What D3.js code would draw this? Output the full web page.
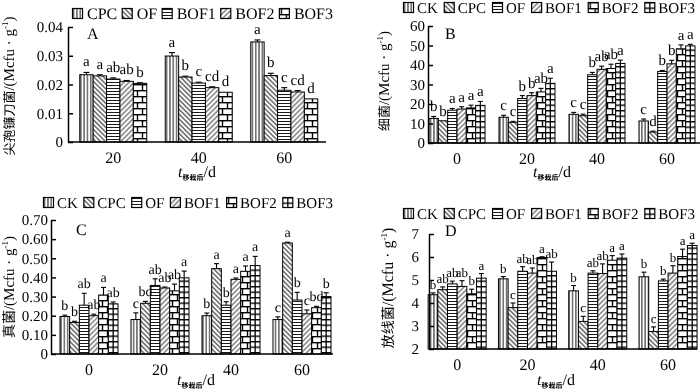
<!DOCTYPE html>
<html><head><meta charset="utf-8">
<script src="https://cdn.jsdelivr.net/npm/d3@7"></script>
<style>
body{margin:0;background:#fff;}
svg{filter:grayscale(100%);}
svg text{font-family:"Liberation Serif","Times New Roman","Noto Sans CJK SC",serif;fill:#000;text-rendering:geometricPrecision;}
</style></head><body>
<svg id="c" width="700" height="391"></svg>
<script>
// ---------- data ----------
const daysA = ["20","40","60"];
const daysBCD = ["0","20","40","60"];
const seriesA = ["CPC","OF","BOF1","BOF2","BOF3"];
const seriesBCD = ["CK","CPC","OF","BOF1","BOF2","BOF3"];

const ticksA = [0,0.01,0.02,0.03,0.04];
const ticksB = [0,10,20,30,40,50,60];
const ticksC = [0,0.1,0.2,0.3,0.4,0.5,0.6,0.7];
const ticksD = [2,3,4,5,6,7];

// A: Fusarium oxysporum (rows = days, cols = series)
const fusarium = [
  [0.0234,0.0230,0.0219,0.0211,0.0204],
  [0.0299,0.0226,0.0205,0.0189,0.0173],
  [0.0348,0.0231,0.0180,0.0174,0.0150]
];
const fusariumErr = [
  [0.0008,0.0004,0.0004,0.0003,0.0002],
  [0.0012,0.0003,0.0003,0.0003,0],
  [0.0007,0.0008,0.0009,0.0005,0]
];
const fusariumSig = [
  ["a","a","ab","ab","b"],
  ["a","b","c","cd","d"],
  ["a","b","c","cd","d"]
];
// B: bacteria
const bacteria = [
  [12.6,11.4,16.8,17.4,18.0,19.3],
  [13.2,10.6,22.8,24.3,26.2,30.6],
  [14.7,14.0,35.0,37.8,38.2,40.8],
  [11.3,5.6,36.7,40.6,48.3,49.8]
];
const bacteriaErr = [
  [1.0,0,0.9,1.2,1.4,2.0],
  [1.0,0.5,1.5,1.5,1.8,2.6],
  [1.0,0.8,1.2,1.6,2.2,1.7],
  [1.0,0.5,0.5,1.8,2.0,0.8]
];
const bacteriaSig = [
  ["b","b","a","a","a","a"],
  ["c","c","b","b","ab","a"],
  ["c","c","b","ab","ab","a"],
  ["c","d","b","b","a","a"]
];
// C: fungi
const fungi = [
  [0.196,0.165,0.255,0.200,0.308,0.262],
  [0.180,0.265,0.358,0.345,0.330,0.398],
  [0.200,0.446,0.255,0.390,0.432,0.462],
  [0.180,0.580,0.282,0.210,0.242,0.300]
];
const fungiErr = [
  [0.007,0.006,0.062,0.008,0.040,0.010],
  [0.035,0.010,0.035,0.005,0.035,0.035],
  [0.014,0.026,0.018,0.007,0.028,0.048],
  [0.014,0.004,0.040,0.020,0.007,0.020]
];
const fungiSig = [
  ["b","b","ab","ab","a","ab"],
  ["c","bd","ab","ab","ab","a"],
  ["b","a","b","a","a","a"],
  ["c","a","b","c","bd","b"]
];
// D: actinomycetes
const actino = [
  [4.36,4.58,4.83,4.72,4.40,5.08],
  [5.05,3.80,5.38,5.30,5.98,5.38],
  [4.53,3.20,5.30,5.28,5.86,5.95],
  [5.14,2.76,4.96,5.30,6.02,6.50]
];
const actinoErr = [
  [0.08,0.12,0.12,0.25,0.20,0.20],
  [0.10,0.20,0.20,0.22,0.03,0.40],
  [0.23,0.22,0.10,0.42,0.20,0.18],
  [0.20,0.20,0.08,0.32,0.32,0.10]
];
const actinoSig = [
  ["b","ab","ab","ab","b","a"],
  ["b","c","ab","ab","a","ab"],
  ["b","c","ab","ab","a","a"],
  ["b","c","b","b","a","a"]
];

// ---------- patterns ----------
const svg = d3.select("#c");
const defs = svg.append("defs");
function pat(id, w, h, draw, transform){
  const p = defs.append("pattern").attr("id",id).attr("patternUnits","userSpaceOnUse")
    .attr("width",w).attr("height",h);
  if (transform) p.attr("patternTransform",transform);
  p.append("rect").attr("width",w).attr("height",h).attr("fill","#fff");
  draw(p);
}
pat("vert",3.3,10,p=>p.append("line").attr("x1",1.65).attr("x2",1.65).attr("y1",0).attr("y2",10).attr("stroke","#000").attr("stroke-width",0.9));
pat("back",3.4,10,p=>p.append("line").attr("x1",1.7).attr("x2",1.7).attr("y1",0).attr("y2",10).attr("stroke","#000").attr("stroke-width",0.9),"rotate(-45)");
pat("horiz",10,3,p=>p.append("line").attr("x1",0).attr("x2",10).attr("y1",1.5).attr("y2",1.5).attr("stroke","#000").attr("stroke-width",0.9));
pat("slash",3.6,10,p=>p.append("line").attr("x1",1.8).attr("x2",1.8).attr("y1",0).attr("y2",10).attr("stroke","#000").attr("stroke-width",0.8),"rotate(45)");
pat("brick",10,12,p=>{
  p.append("line").attr("x1",0).attr("x2",10).attr("y1",0.7).attr("y2",0.7).attr("stroke","#000").attr("stroke-width",1.4);
  p.append("line").attr("x1",0).attr("x2",10).attr("y1",6.7).attr("y2",6.7).attr("stroke","#000").attr("stroke-width",1.4);
  p.append("line").attr("x1",2.5).attr("x2",2.5).attr("y1",0).attr("y2",6.7).attr("stroke","#000").attr("stroke-width",1.4);
  p.append("line").attr("x1",7.5).attr("x2",7.5).attr("y1",6.7).attr("y2",12).attr("stroke","#000").attr("stroke-width",1.4);
});
pat("ladder",10,5.5,p=>{
  p.append("line").attr("x1",0).attr("x2",10).attr("y1",0.7).attr("y2",0.7).attr("stroke","#000").attr("stroke-width",1.4);
});
const patA = ["vert","back","horiz","slash","brick"];
const patBCD = ["vert","back","horiz","slash","brick","ladder"];

// ---------- panel drawing ----------
function drawPanel(cfg){
  const g = svg.append("g");
  const y = d3.scaleLinear().domain(cfg.domain).range([cfg.yBot, cfg.yTop]);
  const x = d3.scaleBand().domain(cfg.days).range([cfg.x0, cfg.x0 + cfg.step*cfg.days.length]);
  const xs = d3.scaleBand().domain(cfg.series).range([0, cfg.groupW]);
  const off = (x.bandwidth()-cfg.groupW)/2;

  const rows = [];
  cfg.days.forEach((d,i)=>cfg.series.forEach((s,j)=>rows.push({d,s,j,v:cfg.values[i][j],e:cfg.errs[i][j],l:cfg.sig[i][j]})));

  const bx = r => x(r.d)+off+xs(r.s);
  const bw = xs.bandwidth();

  // error bars
  const eb = g.append("g").attr("stroke","#000").attr("stroke-width",1.1);
  rows.forEach(r=>{
    if (r.e<=0) return;
    const cx = bx(r)+bw/2;
    eb.append("line").attr("x1",cx).attr("x2",cx).attr("y1",y(r.v)).attr("y2",y(r.v+r.e));
    eb.append("line").attr("x1",cx-cfg.cap).attr("x2",cx+cfg.cap).attr("y1",y(r.v+r.e)).attr("y2",y(r.v+r.e));
  });
  // bars
  g.append("g").selectAll("rect").data(rows).join("rect")
    .attr("x",bx).attr("width",bw)
    .attr("y",r=>y(r.v)).attr("height",r=>y(cfg.domain[0])-y(r.v))
    .attr("fill",r=>`url(#${cfg.pats[r.j]})`).attr("stroke","#000").attr("stroke-width",1);
  // ladder centre line
  g.append("g").selectAll("line").data(rows.filter(r=>cfg.pats[r.j]==="ladder")).join("line")
    .attr("x1",r=>bx(r)+bw/2).attr("x2",r=>bx(r)+bw/2)
    .attr("y1",r=>y(r.v)).attr("y2",y(cfg.domain[0]))
    .attr("stroke","#000").attr("stroke-width",1.3);
  // letters
  g.append("g").selectAll("text").data(rows).join("text")
    .attr("x",r=>bx(r)+bw/2).attr("y",r=>y(r.v+r.e)-cfg.letGap)
    .attr("text-anchor","middle").attr("font-size",cfg.letSize).text(r=>r.l);

  // y axis
  const ya = g.append("g").attr("transform",`translate(${cfg.axisX},0)`)
    .call(d3.axisLeft(y).tickValues(cfg.ticks).tickSize(-5).tickSizeOuter(0).tickPadding(cfg.tickPad).tickFormat(cfg.fmt));
  ya.selectAll("path,line").attr("stroke","#000").attr("stroke-width",1.5);
  ya.selectAll("text").attr("font-size",cfg.tickSize).attr("font-family",null).attr("fill","#000");
  // x axis
  g.append("line").attr("x1",cfg.axisX).attr("x2",cfg.axisEnd).attr("y1",cfg.yBot).attr("y2",cfg.yBot)
    .attr("stroke","#000").attr("stroke-width",1.5);
  g.append("g").selectAll("text").data(cfg.days).join("text")
    .attr("x",d=>x(d)+x.bandwidth()/2).attr("y",cfg.yBot+21).attr("text-anchor","middle")
    .attr("font-size",16).text(d=>d);

  // panel letter
  g.append("text").attr("x",cfg.lab[0]).attr("y",cfg.lab[1]).attr("font-size",16).text(cfg.label);

  // y title
  const yt = g.append("text").attr("transform",`translate(${cfg.yt[0]},${cfg.yt[1]}) rotate(-90)`)
    .attr("text-anchor","middle");
  yt.append("tspan").attr("font-family","Noto Sans CJK SC").attr("font-size",cfg.cjkSize).text(cfg.ytitle);
  yt.append("tspan").attr("font-size",cfg.latSize).text("/(Mcfu · g");
  yt.append("tspan").attr("font-size",9).attr("dy",-6).text("-1");
  yt.append("tspan").attr("font-size",cfg.latSize).attr("dy",6).text(")");

  // x title
  const xt = g.append("text").attr("x",cfg.xt[0]).attr("y",cfg.xt[1]).attr("text-anchor","middle");
  xt.append("tspan").attr("font-style","italic").attr("font-size",16).text("t");
  xt.append("tspan").attr("font-family","Noto Sans CJK SC").attr("font-size",7).attr("font-weight","bold").attr("dy",3).text("移栽后");
  xt.append("tspan").attr("font-size",16).attr("dy",-3).text("/d");

  // legend
  const lg = g.append("g");
  const items = cfg.series.map((s,j)=>{
    const it = lg.append("g");
    it.append("rect").attr("x",0.5).attr("y",0.5).attr("width",10).attr("height",10)
      .attr("fill",`url(#${cfg.pats[j]})`).attr("stroke","#000").attr("stroke-width",1.2);
    if (cfg.pats[j]==="ladder") it.append("line").attr("x1",5.5).attr("x2",5.5).attr("y1",0.5).attr("y2",10.5).attr("stroke","#000").attr("stroke-width",1.3);
    const t = it.append("text").attr("x",11+cfg.legTextGap).attr("y",10.5).attr("font-size",cfg.legSize).text(s);
    return {it, w: 11+cfg.legTextGap+t.node().getComputedTextLength()};
  });
  const total = d3.sum(items,d=>d.w);
  const gap = (cfg.leg[2]-cfg.leg[0]-total)/(items.length-1);
  let cx = cfg.leg[0];
  items.forEach(d=>{ d.it.attr("transform",`translate(${cx},${cfg.leg[1]})`); cx += d.w+gap; });
}

const fmt2 = d => d===0 ? "0" : d3.format(".2f")(d);
drawPanel({days:daysA, series:seriesA, values:fusarium, errs:fusariumErr, sig:fusariumSig, pats:patA,
  domain:[0,0.04], ticks:ticksA, fmt:fmt2, yTop:27, yBot:142, x0:70.5, step:85.5, groupW:67, axisX:68, axisEnd:326,
  tickPad:5, tickSize:15, letSize:15, letGap:6, cap:3, label:"A", lab:[87,39],
  yt:[14,86], ytitle:"尖孢镰刀菌", cjkSize:13, latSize:15, xt:[197,177],
  leg:[72,8,333], legSize:16, legTextGap:4});
drawPanel({days:daysBCD, series:seriesBCD, values:bacteria, errs:bacteriaErr, sig:bacteriaSig, pats:patBCD,
  domain:[0,60], ticks:ticksB, fmt:d=>d, yTop:26, yBot:143, x0:422, step:70, groupW:56, axisX:428, axisEnd:700,
  tickPad:3, tickSize:15, letSize:15, letGap:5, cap:2.5, label:"B", lab:[445,39],
  yt:[389,81], ytitle:"细菌", cjkSize:13, latSize:15, xt:[552,177],
  leg:[403,2,695], legSize:15, legTextGap:3});
drawPanel({days:daysBCD, series:seriesBCD, values:fungi, errs:fungiErr, sig:fungiSig, pats:patBCD,
  domain:[0,0.7], ticks:ticksC, fmt:fmt2, yTop:220, yBot:354, x0:53.5, step:71, groupW:58, axisX:51, axisEnd:333,
  tickPad:3, tickSize:15, letSize:14, letGap:5, cap:2.5, label:"C", lab:[76,235],
  yt:[14,287], ytitle:"真菌", cjkSize:14, latSize:15, xt:[196,385],
  leg:[43,197,333], legSize:15, legTextGap:3});
drawPanel({days:daysBCD, series:seriesBCD, values:actino, errs:actinoErr, sig:actinoSig, pats:patBCD,
  domain:[2,7], ticks:ticksD, fmt:d=>d, yTop:234, yBot:349, x0:422, step:70.3, groupW:58, axisX:429, axisEnd:697,
  tickPad:10, tickSize:15, letSize:13, letGap:4, cap:2.5, label:"D", lab:[445,236],
  yt:[393,288], ytitle:"放线菌", cjkSize:14, latSize:16, xt:[556,385],
  leg:[403,208,695], legSize:15, legTextGap:3});
</script>
</body></html>
